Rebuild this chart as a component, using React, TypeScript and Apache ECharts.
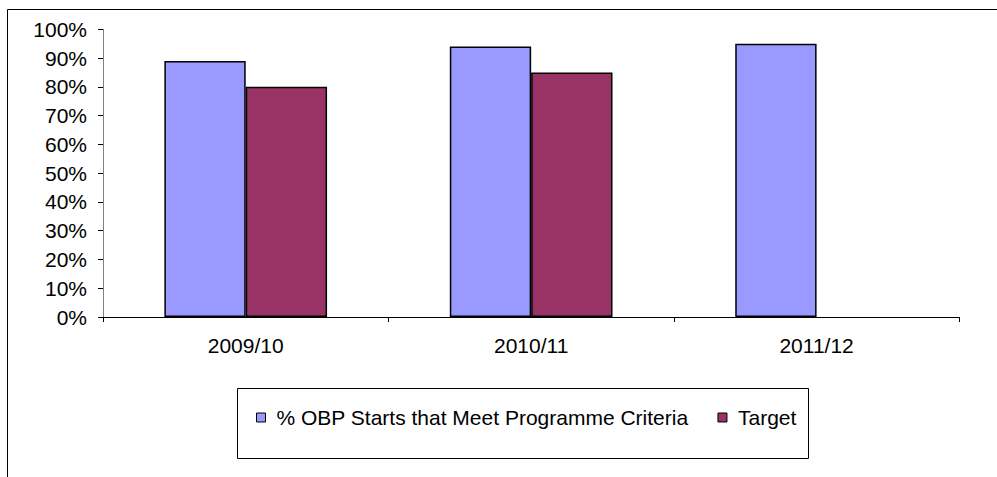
import React, { useEffect, useRef } from "react";
import * as echarts from "echarts";

const categories = ["2009/10", "2010/11", "2011/12"];
const obpStarts = [89, 94, 95];
const target: (number | null)[] = [80, 85, null];
const seriesNames = ["% OBP Starts that Meet Programme Criteria", "Target"];

export default function App() {
  const ref = useRef<HTMLDivElement>(null);
  useEffect(() => {
    if (!ref.current) return;
    const chart = echarts.init(ref.current, undefined, { renderer: "svg" });
    const font = "'Liberation Sans', Arial, sans-serif";
    chart.setOption({
      animation: false,
      backgroundColor: "#ffffff",
      textStyle: { fontFamily: font },
      grid: { left: 103, top: 29.3, right: 37.7, bottom: 160 },
      graphic: [
        {
          type: "rect",
          shape: { x: 7.5, y: 9.5, width: 1000, height: 500 },
          style: { fill: "none", stroke: "#000", lineWidth: 1 },
          silent: true,
        },
        {
          type: "rect",
          shape: { x: 237.5, y: 388.5, width: 571, height: 70 },
          style: { fill: "none", stroke: "#000", lineWidth: 1 },
          silent: true,
        },
      ],
      legend: {
        left: 251,
        top: 402,
        icon: "rect",
        itemWidth: 9,
        itemHeight: 9,
        itemGap: 29,
        selectedMode: false,
        itemStyle: { borderColor: "#000", borderWidth: 1 },
        textStyle: { fontFamily: font, fontSize: 21, color: "#000", padding: [0, 0, 0, 6] },
        data: seriesNames,
      },
      xAxis: {
        type: "category",
        data: categories,
        axisLine: { show: true, lineStyle: { color: "#000", width: 1 } },
        axisTick: { show: true, length: 5, lineStyle: { color: "#000" } },
        axisLabel: { fontFamily: font, fontSize: 21, color: "#000", margin: 18 },
      },
      yAxis: {
        type: "value",
        min: 0,
        max: 100,
        interval: 10,
        axisLine: { show: true, lineStyle: { color: "#808080", width: 1 } },
        axisTick: { show: true, length: 5, lineStyle: { color: "#000" } },
        splitLine: { show: false },
        axisLabel: {
          fontFamily: font,
          fontSize: 21,
          color: "#000",
          margin: 16,
          formatter: (v: number) => v + "%",
        },
      },
      series: [
        {
          name: seriesNames[0],
          type: "bar",
          data: obpStarts,
          barGap: "0%",
          barCategoryGap: "43%",
          itemStyle: { color: "#9999FF", borderColor: "#000", borderWidth: 1.5 },
        },
        {
          name: seriesNames[1],
          type: "bar",
          data: target,
          barGap: "0%",
          barCategoryGap: "43%",
          itemStyle: { color: "#993366", borderColor: "#000", borderWidth: 1.5 },
        },
      ],
    });
    return () => chart.dispose();
  }, []);
  return <div ref={ref} style={{ width: 997, height: 477, position: "absolute", left: 0, top: 0 }} />;
}
